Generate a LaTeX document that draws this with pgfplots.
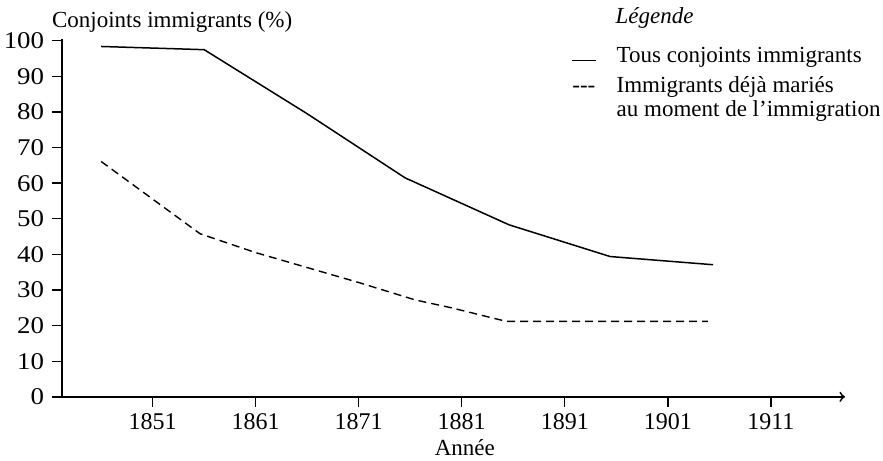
\documentclass[border=0pt]{standalone}
\usepackage{fontspec}
\setmainfont{Liberation Serif}
\usepackage{pgfplots}
\pgfplotsset{compat=1.18}
\begin{document}
\begin{tikzpicture}[font=\fontsize{11.5}{13}\selectfont]
\begin{axis}[
  scale only axis, width=391.5pt, height=178.9pt,
  xmin=1842.2, xmax=1918.2, ymin=0, ymax=100.5,
  axis x line=bottom, axis y line=left,
  x axis line style={-to, line width=0.9pt},
  y axis line style={-, line width=0.9pt},
  xtick={1851,1861,1871,1881,1891,1901,1911},
  ytick={0,10,20,30,40,50,60,70,80,90,100},
  /pgf/number format/1000 sep={},
  /pgf/number format/assume math mode=true,
  tick align=outside, major tick length=5pt,
  tick style={black, line width=0.7pt},
  ticklabel style={font=\fontsize{12}{14}\selectfont},
  yticklabel style={xscale=1.12},
  clip=false,
]
\addplot[black, line width=0.75pt] coordinates {
  (1846,98.4) (1856,97.5) (1866,79.5) (1875.5,61.5) (1885.6,48.3) (1895.4,39.4) (1905.4,37.1)
};
\addplot[black, line width=0.7pt, dash pattern=on 4pt off 2.5pt] coordinates {
  (1846,66.1) (1855.6,45.8) (1861,40.5) (1866,36.3) (1871,32.1) (1876.5,27.2) (1880,25) (1885.3,21.2) (1895,21.2) (1904.9,21.2)
};
\coordinate (ll) at (rel axis cs:0,0);
\coordinate (ur) at (rel axis cs:1,1);
\node[anchor=base west, inner sep=0] at (axis cs:1841.2,103.7) {Conjoints immigrants (\%)};
\node[anchor=base, inner sep=0] at (axis cs:1881.3,-16.5) {Année};
\node[anchor=base west, inner sep=0, font=\fontsize{11.5}{13}\selectfont\itshape] at (axis cs:1895.9,104.8) {Légende};
\node[anchor=base west, inner sep=0] at (axis cs:1891.7,93.8) {\raisebox{1pt}{\rule{12pt}{0.6pt}}};
\node[anchor=base west, inner sep=0] at (axis cs:1896,93.8) {Tous conjoints immigrants};
\node[anchor=base west, inner sep=0] at (axis cs:1891.7,85.4) {-{}-{}-};
\node[anchor=base west, inner sep=0] at (axis cs:1896,85.4) {Immigrants déjà mariés};
\node[anchor=base west, inner sep=0] at (axis cs:1896,78.7) {au moment de l’immigration};
\end{axis}
\pgfresetboundingbox
\path ([shift={(-31pt,-32pt)}]ll) rectangle ([shift={(19pt,19.5pt)}]ur);
\end{tikzpicture}
\end{document}
